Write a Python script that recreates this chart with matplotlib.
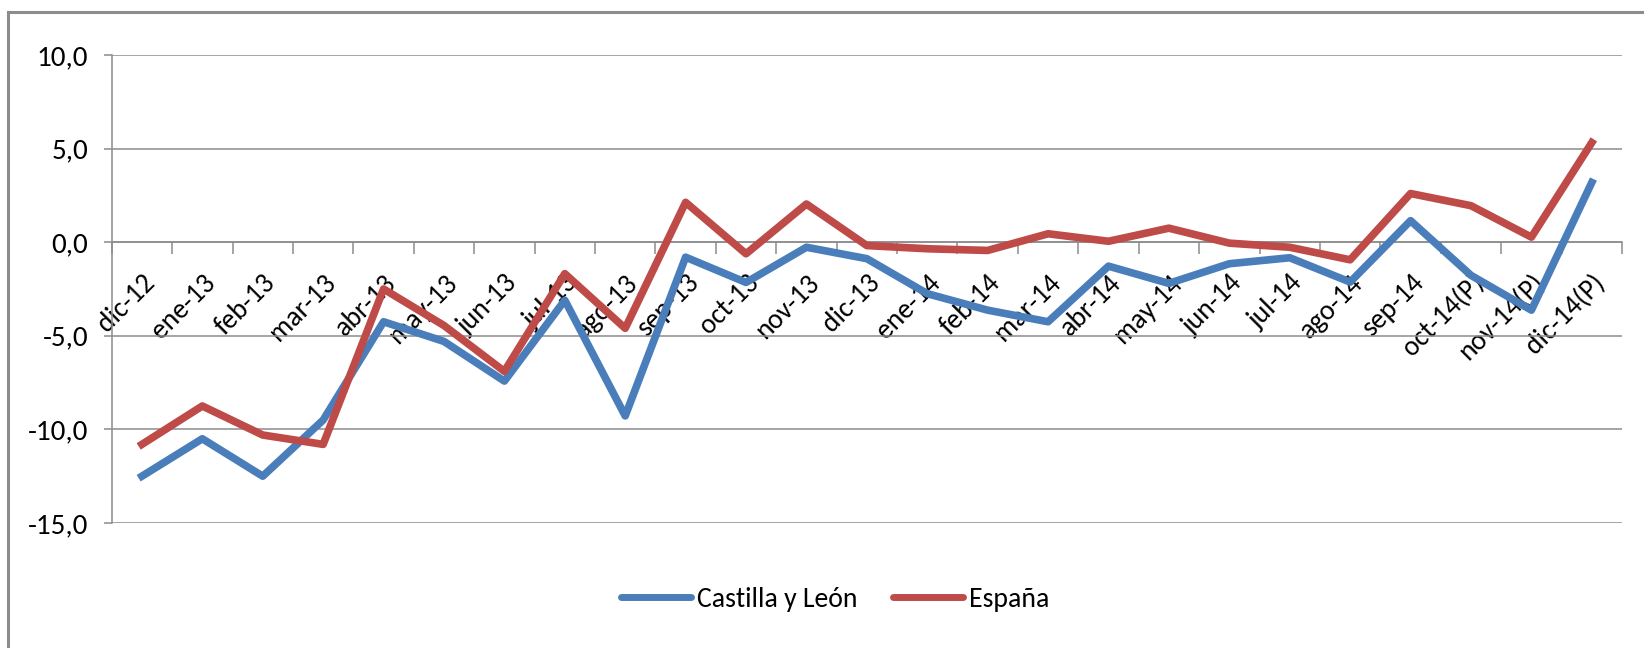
import matplotlib
matplotlib.use("Agg")
import matplotlib.pyplot as plt
from matplotlib.patches import Rectangle
from matplotlib.ticker import FixedLocator, FuncFormatter

plt.rcParams["font.family"] = ["Carlito", "PT Sans", "DejaVu Sans"]

MONTHS = [
    "dic-12", "ene-13", "feb-13", "mar-13", "abr-13", "may-13", "jun-13",
    "jul-13", "ago-13", "sep-13", "oct-13", "nov-13", "dic-13", "ene-14",
    "feb-14", "mar-14", "abr-14", "may-14", "jun-14", "jul-14", "ago-14",
    "sep-14", "oct-14(P)", "nov-14(P)", "dic-14(P)",
]
CASTILLA_LEON = [
    -12.5, -10.5, -12.5, -9.5, -4.25, -5.3, -7.42, -3.1, -9.28, -0.8,
    -2.15, -0.27, -0.88, -2.75, -3.63, -4.25, -1.28, -2.2, -1.15, -0.83,
    -2.13, 1.15, -1.77, -3.63, 3.19,
]
ESPANA = [
    -10.8, -8.75, -10.3, -10.8, -2.5, -4.45, -6.9, -1.68, -4.6, 2.13,
    -0.62, 2.04, -0.18, -0.35, -0.44, 0.45, 0.05, 0.75, -0.05, -0.27,
    -0.94, 2.6, 1.95, 0.27, 5.32,
]
SERIES_NAMES = ["Castilla y León", "España"]
Y_TICKS = [-15, -10, -5, 0, 5, 10]

BLUE = "#4A7EBB"
RED = "#BE4B48"
GRID = "#8C8C8C"

W, H = 1644, 648
fig = plt.figure(figsize=(W / 100, H / 100), dpi=100)
ax = fig.add_axes([111.7 / W, 1 - 523 / H, (1622 - 111.7) / W, (523 - 55) / H])

x = [i + 0.5 for i in range(len(MONTHS))]
ax.plot(x, CASTILLA_LEON, color=BLUE, lw=5.5, solid_joinstyle="round", label=SERIES_NAMES[0], zorder=3)
ax.plot(x, ESPANA, color=RED, lw=5.5, solid_joinstyle="round", label=SERIES_NAMES[1], zorder=3)

ax.set_xlim(0, len(MONTHS))
ax.set_ylim(-15, 10)

# y axis
ax.yaxis.set_major_locator(FixedLocator(Y_TICKS))
ax.yaxis.set_major_formatter(FuncFormatter(lambda v, p: f"{v:.1f}".replace(".", ",")))
ax.tick_params(axis="y", length=5.8, width=1.1, color=GRID, pad=11, labelsize=21)
ax.yaxis.grid(True, color=GRID, lw=1.1)
ax.set_axisbelow(True)

# category axis crossing at zero
for s in ["top", "right"]:
    ax.spines[s].set_visible(False)
ax.spines["left"].set_color(GRID)
ax.spines["left"].set_linewidth(1.1)
ax.spines["bottom"].set_position(("data", 0))
ax.spines["bottom"].set_color(GRID)
ax.spines["bottom"].set_linewidth(1.1)

ax.set_xticks(x)
ax.set_xticklabels(MONTHS, rotation=45, ha="right", va="top", rotation_mode="anchor")
ax.set_xticks(range(len(MONTHS) + 1), minor=True)
ax.tick_params(axis="x", which="major", length=0, pad=20, labelsize=20)
ax.tick_params(axis="x", which="minor", length=8.6, width=1.1, color=GRID, direction="out")

leg = fig.legend(
    loc="center", bbox_to_anchor=(0.508, 1 - 599 / H), ncol=2, frameon=False,
    fontsize=20, handlelength=2.5, handletextpad=0.22, columnspacing=1.3,
)
for line in leg.get_lines():
    line.set_linewidth(5)
    line.set_solid_capstyle("round")

# chart area border, cut on right and bottom like the source
fig.patches.append(Rectangle((8 / W, -0.1), 1.2, 1 - 12 / H + 0.1, transform=fig.transFigure,
                             fill=False, edgecolor=GRID, lw=2.2))

fig.savefig("out.png", dpi=100)
